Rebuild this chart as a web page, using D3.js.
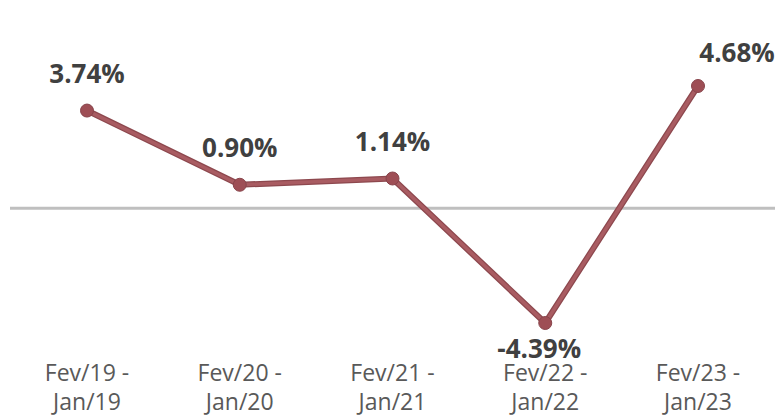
<!DOCTYPE html>
<html>
<head>
<meta charset="utf-8">
<script src="https://cdn.jsdelivr.net/npm/d3@7"></script>
<style>
  body { margin: 0; background: #fff; }
  svg { display: block; }
</style>
</head>
<body>
<svg id="chart" width="781" height="417"></svg>
<script>
const periodsTop = ['Fev/19 -', 'Fev/20 -', 'Fev/21 -', 'Fev/22 -', 'Fev/23 -'];
const periodsBottom = ['Jan/19', 'Jan/20', 'Jan/21', 'Jan/22', 'Jan/23'];
const values = [3.74, 0.90, 1.14, -4.39, 4.68];

const width = 781, height = 417;
const svg = d3.select('#chart');

const x = d3.scalePoint()
  .domain(d3.range(values.length))
  .range([87, 698]);

const y = d3.scaleLinear()
  .domain([-4.39, 4.68])
  .range([323, 86]);

// zero line
svg.append('line')
  .attr('x1', 10).attr('x2', 775)
  .attr('y1', y(0)).attr('y2', y(0))
  .attr('stroke', '#bfbfbf')
  .attr('stroke-width', 3);

const line = d3.line()
  .x((d, i) => x(i))
  .y(d => y(d));

// darker outline under the main stroke
svg.append('path')
  .datum(values)
  .attr('d', line)
  .attr('fill', 'none')
  .attr('stroke', '#8d484e')
  .attr('stroke-width', 6);

svg.append('path')
  .datum(values)
  .attr('d', line)
  .attr('fill', 'none')
  .attr('stroke', '#a95c62')
  .attr('stroke-width', 3.5);

svg.selectAll('.dot')
  .data(values)
  .enter()
  .append('circle')
  .attr('class', 'dot')
  .attr('cx', (d, i) => x(i))
  .attr('cy', d => y(d))
  .attr('r', 6.5)
  .attr('fill', '#9e4e55')
  .attr('stroke', '#88444b')
  .attr('stroke-width', 1);

// data labels: above for positives, below for negatives; last one nudged right
const labelDx = [0, 0, 0, -6, 39];
svg.selectAll('.lbl')
  .data(values)
  .enter()
  .append('text')
  .attr('class', 'lbl')
  .attr('x', (d, i) => x(i) + labelDx[i])
  .attr('y', (d, i) => i === 4 ? y(d) - 24 : d < 0 ? y(d) + 35 : y(d) - 28)
  .attr('text-anchor', 'middle')
  .attr('font-family', '"Open Sans", sans-serif')
  .attr('font-weight', 'bold')
  .attr('font-size', 26)
  .attr('fill', '#404040')
  .text(d => d3.format('.2f')(d).replace('−', '-') + '%');

const ax = svg.append('g')
  .attr('font-family', '"Open Sans", sans-serif')
  .attr('font-size', 23)
  .attr('fill', '#595959')
  .attr('text-anchor', 'middle');

ax.selectAll('.t1')
  .data(periodsTop)
  .enter()
  .append('text')
  .attr('x', (d, i) => x(i))
  .attr('y', 381)
  .text(d => d);

ax.selectAll('.t2')
  .data(periodsBottom)
  .enter()
  .append('text')
  .attr('x', (d, i) => x(i))
  .attr('y', 410)
  .text(d => d);
</script>
</body>
</html>
